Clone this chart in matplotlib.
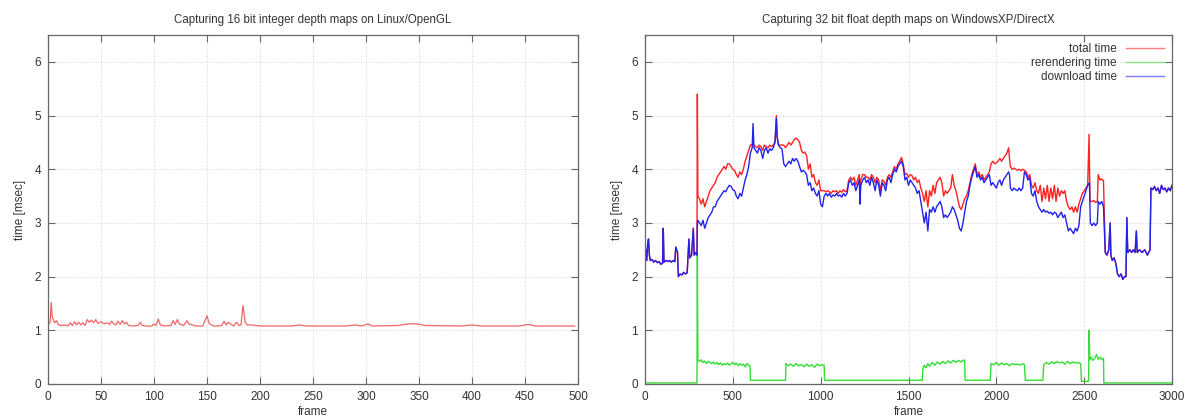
import matplotlib
matplotlib.use("Agg")
import matplotlib.pyplot as plt

plt.rcParams['font.family'] = ['Liberation Sans', 'DejaVu Sans']

# ---------------- Left chart data (Linux/OpenGL) ----------------
left_frames = [0, 2, 3, 4, 6, 8, 10, 13, 16, 19, 21, 23, 25, 27, 29, 31, 33, 35, 37, 39, 41, 43, 45,
               47, 50, 53, 56, 58, 60, 62, 64, 66, 68, 70, 72, 74, 76, 80, 85, 87, 89, 92, 98, 100,
               102, 104, 106, 110, 116, 118, 120, 122, 124, 128, 131, 133, 136, 140, 146, 150, 152,
               156, 160, 164, 166, 168, 170, 175, 178, 180, 182, 184, 186, 188, 192, 200, 230, 237,
               244, 280, 290, 296, 302, 306, 330, 340, 348, 356, 390, 400, 408, 445, 453, 460, 497]
left_values = [1.10, 1.15, 1.52, 1.25, 1.14, 1.18, 1.10, 1.09, 1.10, 1.08, 1.14, 1.09, 1.16, 1.10,
               1.15, 1.10, 1.14, 1.09, 1.20, 1.15, 1.19, 1.14, 1.20, 1.13, 1.16, 1.12, 1.14, 1.11,
               1.17, 1.12, 1.10, 1.17, 1.11, 1.18, 1.12, 1.15, 1.09, 1.08, 1.09, 1.15, 1.09, 1.08,
               1.08, 1.12, 1.09, 1.21, 1.10, 1.08, 1.09, 1.18, 1.11, 1.20, 1.12, 1.09, 1.18, 1.12,
               1.10, 1.08, 1.08, 1.27, 1.13, 1.08, 1.08, 1.09, 1.17, 1.10, 1.15, 1.08, 1.15, 1.09,
               1.10, 1.46, 1.15, 1.10, 1.10, 1.08, 1.08, 1.10, 1.08, 1.08, 1.10, 1.08, 1.12, 1.08,
               1.09, 1.12, 1.12, 1.09, 1.08, 1.10, 1.08, 1.08, 1.11, 1.08, 1.08]

# ---------------- Right chart data (WindowsXP/DirectX) ----------------
dl_frames = [0, 5, 10, 15, 20, 25, 30, 40, 50, 60, 70, 80, 90, 100, 104, 108, 120, 130, 140, 150,
             160, 170, 175, 180, 185, 190, 200, 210, 220, 230, 240, 245, 250, 255, 265, 275, 280,
             290, 296, 298, 300, 310, 320, 330, 340, 350, 360, 370, 380, 390, 400, 410, 420, 430,
             440, 450, 460, 470, 480, 490, 500, 510, 520, 530, 540, 550, 560, 570, 580, 590, 600,
             610, 615, 620, 630, 640, 650, 660, 670, 680, 690, 700, 710, 720, 730, 740, 748, 752,
             760, 770, 780, 790, 800, 810, 820, 830, 840, 850, 860, 870, 880, 890, 900, 910, 920,
             930, 940, 950, 960, 970, 980, 990, 1000, 1010, 1020, 1030, 1040, 1050, 1060, 1070,
             1080, 1090, 1100, 1110, 1120, 1130, 1140, 1150, 1160, 1170, 1180, 1190, 1200, 1210,
             1220, 1224, 1228, 1240, 1250, 1260, 1270, 1280, 1290, 1300, 1310, 1320, 1330, 1340,
             1350, 1360, 1370, 1380, 1390, 1400, 1410, 1420, 1430, 1440, 1450, 1460, 1470, 1480,
             1490, 1500, 1510, 1520, 1530, 1540, 1550, 1560, 1570, 1580, 1590, 1600, 1610, 1620,
             1630, 1640, 1650, 1660, 1670, 1680, 1690, 1700, 1710, 1720, 1730, 1740, 1750, 1760,
             1770, 1780, 1790, 1800, 1810, 1820, 1830, 1840, 1850, 1860, 1870, 1880, 1890, 1900,
             1910, 1920, 1930, 1940, 1950, 1960, 1970, 1980, 1990, 2000, 2010, 2020, 2030, 2040,
             2050, 2060, 2070, 2075, 2080, 2090, 2100, 2110, 2120, 2130, 2140, 2150, 2160, 2170,
             2180, 2190, 2200, 2210, 2220, 2230, 2240, 2250, 2260, 2270, 2280, 2290, 2300, 2310,
             2320, 2330, 2340, 2350, 2360, 2370, 2380, 2390, 2400, 2410, 2420, 2430, 2440, 2450,
             2460, 2470, 2480, 2490, 2500, 2510, 2520, 2530, 2535, 2545, 2555, 2565, 2575, 2580,
             2590, 2600, 2610, 2620, 2630, 2640, 2648, 2652, 2660, 2670, 2680, 2690, 2700, 2710,
             2720, 2730, 2738, 2743, 2748, 2760, 2770, 2780, 2790, 2797, 2802, 2815, 2830, 2845,
             2860, 2875, 2880, 2890, 2900, 2910, 2920, 2930, 2940, 2950, 2960, 2970, 2980, 2990,
             3000]
dl_values = [2.35, 2.50, 2.30, 2.60, 2.70, 2.40, 2.30, 2.32, 2.27, 2.30, 2.26, 2.28, 2.23, 2.25,
             2.90, 2.27, 2.30, 2.28, 2.30, 2.27, 2.30, 2.28, 2.55, 2.50, 2.45, 2.00, 2.05, 2.03,
             2.08, 2.05, 2.07, 2.40, 2.70, 2.35, 2.40, 2.90, 2.40, 2.45, 2.40, 3.00, 3.05, 3.00,
             2.95, 3.05, 2.90, 3.00, 3.10, 3.15, 3.20, 3.30, 3.30, 3.40, 3.45, 3.50, 3.55, 3.60,
             3.58, 3.65, 3.70, 3.68, 3.62, 3.60, 3.50, 3.45, 3.55, 3.50, 3.65, 3.80, 3.90, 4.05,
             4.30, 4.40, 4.85, 4.40, 4.35, 4.30, 4.40, 4.35, 4.20, 4.35, 4.40, 4.30, 4.38, 4.35,
             4.40, 4.50, 4.95, 4.60, 4.45, 4.40, 4.38, 4.10, 4.05, 4.10, 4.15, 4.10, 4.20, 4.15,
             4.20, 4.15, 4.05, 3.95, 3.98, 3.95, 3.90, 3.70, 3.75, 3.60, 3.65, 3.55, 3.50, 3.60,
             3.35, 3.30, 3.50, 3.55, 3.50, 3.55, 3.48, 3.52, 3.50, 3.55, 3.50, 3.52, 3.48, 3.55,
             3.50, 3.55, 3.75, 3.80, 3.70, 3.75, 3.60, 3.70, 3.80, 3.35, 3.70, 3.80, 3.85, 3.75,
             3.80, 3.70, 3.85, 3.75, 3.60, 3.80, 3.70, 3.50, 3.75, 3.70, 3.60, 3.80, 3.85, 3.75,
             3.90, 4.00, 3.95, 4.05, 4.10, 4.15, 4.05, 3.80, 3.85, 3.70, 3.80, 3.75, 3.70, 3.65,
             3.55, 3.60, 3.40, 3.20, 3.00, 3.20, 2.85, 3.25, 3.20, 3.30, 3.20, 3.30, 3.35, 3.40,
             3.30, 3.10, 3.15, 3.10, 3.15, 3.20, 3.30, 3.25, 3.15, 3.05, 2.90, 2.85, 3.00, 3.20,
             3.40, 3.50, 3.70, 3.85, 3.95, 4.05, 3.85, 3.90, 3.80, 3.85, 3.75, 3.80, 3.85, 3.90,
             3.70, 3.75, 3.70, 3.65, 3.75, 3.80, 3.70, 3.80, 3.85, 3.90, 3.95, 3.90, 3.65, 3.60,
             3.65, 3.62, 3.60, 3.65, 3.60, 3.65, 3.95, 3.90, 3.80, 3.85, 3.55, 3.50, 3.60, 3.40,
             3.30, 3.25, 3.20, 3.25, 3.20, 3.22, 3.18, 3.20, 3.15, 3.20, 3.18, 3.10, 3.15, 3.20,
             3.10, 3.15, 3.00, 2.85, 2.90, 2.85, 2.80, 2.90, 2.85, 2.95, 3.30, 3.40, 3.50, 3.60,
             3.70, 3.75, 3.00, 2.95, 3.00, 2.95, 3.00, 3.40, 3.35, 3.40, 3.30, 2.45, 2.40, 2.50,
             3.00, 2.40, 2.30, 2.35, 2.25, 2.05, 2.00, 2.05, 1.95, 2.00, 2.00, 3.10, 2.45, 2.50,
             2.45, 2.50, 2.45, 2.85, 2.45, 2.50, 2.45, 2.50, 2.40, 2.50, 3.65, 3.62, 3.68, 3.60,
             3.65, 3.55, 3.70, 3.62, 3.65, 3.58, 3.65, 3.60, 3.70]

tot_frames = [0, 5, 10, 15, 20, 25, 30, 40, 50, 60, 70, 80, 90, 100, 104, 108, 120, 130, 140, 150,
              160, 170, 175, 180, 185, 190, 200, 210, 220, 230, 240, 245, 250, 255, 265, 275, 280,
              290, 296, 298, 301, 310, 320, 330, 340, 350, 360, 370, 380, 390, 400, 410, 420, 430,
              440, 450, 460, 470, 480, 490, 500, 510, 520, 530, 540, 550, 560, 570, 580, 590, 600,
              610, 615, 620, 630, 640, 650, 660, 670, 680, 690, 700, 710, 720, 730, 740, 748, 752,
              760, 770, 780, 790, 800, 810, 820, 830, 840, 850, 860, 870, 880, 890, 900, 910, 920,
              930, 940, 950, 960, 970, 980, 990, 1000, 1010, 1020, 1030, 1040, 1050, 1060, 1070,
              1080, 1090, 1100, 1110, 1120, 1130, 1140, 1150, 1160, 1170, 1180, 1190, 1200, 1210,
              1220, 1224, 1228, 1240, 1250, 1260, 1270, 1280, 1290, 1300, 1310, 1320, 1330, 1340,
              1350, 1360, 1370, 1380, 1390, 1400, 1410, 1420, 1430, 1440, 1450, 1460, 1470, 1480,
              1490, 1500, 1510, 1520, 1530, 1540, 1550, 1560, 1570, 1580, 1590, 1600, 1610, 1620,
              1630, 1640, 1650, 1660, 1670, 1680, 1690, 1700, 1710, 1720, 1730, 1740, 1750, 1760,
              1770, 1780, 1790, 1800, 1810, 1820, 1830, 1840, 1850, 1860, 1870, 1880, 1890, 1900,
              1910, 1920, 1930, 1940, 1950, 1960, 1970, 1980, 1990, 2000, 2010, 2020, 2030, 2040,
              2050, 2060, 2070, 2075, 2080, 2090, 2100, 2110, 2120, 2130, 2140, 2150, 2160, 2170,
              2180, 2190, 2200, 2210, 2220, 2230, 2240, 2250, 2260, 2270, 2280, 2290, 2300, 2310,
              2320, 2330, 2340, 2350, 2360, 2370, 2380, 2390, 2400, 2410, 2420, 2430, 2440, 2450,
              2460, 2470, 2480, 2490, 2500, 2510, 2520, 2528, 2533, 2545, 2555, 2565, 2575, 2580,
              2590, 2600, 2610, 2620, 2630, 2640, 2648, 2652, 2660, 2670, 2680, 2690, 2700, 2710,
              2720, 2730, 2738, 2743, 2748, 2760, 2770, 2780, 2790, 2797, 2802, 2815, 2830, 2845,
              2860, 2875, 2880, 2890, 2900, 2910, 2920, 2930, 2940, 2950, 2960, 2970, 2980, 2990,
              3000]
tot_values = [2.35, 2.50, 2.30, 2.60, 2.70, 2.40, 2.30, 2.32, 2.27, 2.30, 2.26, 2.28, 2.23, 2.25,
              2.90, 2.27, 2.30, 2.28, 2.30, 2.27, 2.30, 2.28, 2.55, 2.50, 2.45, 2.00, 2.05, 2.03,
              2.08, 2.05, 2.07, 2.40, 2.70, 2.35, 2.40, 2.90, 2.40, 2.45, 2.40, 5.40, 3.50, 3.45,
              3.35, 3.45, 3.30, 3.40, 3.50, 3.60, 3.65, 3.70, 3.75, 3.85, 3.90, 3.95, 4.00, 4.05,
              4.00, 4.10, 4.10, 4.05, 4.00, 3.98, 3.90, 3.85, 3.95, 3.90, 4.00, 4.15, 4.25, 4.35,
              4.45, 4.45, 4.50, 4.45, 4.42, 4.40, 4.45, 4.42, 4.35, 4.45, 4.42, 4.40, 4.45, 4.42,
              4.45, 4.50, 5.00, 4.60, 4.45, 4.45, 4.45, 4.45, 4.40, 4.45, 4.50, 4.45, 4.50, 4.55,
              4.58, 4.55, 4.50, 4.35, 4.30, 4.32, 4.25, 4.00, 4.10, 3.85, 3.90, 3.75, 3.70, 3.80,
              3.60, 3.60, 3.60, 3.58, 3.60, 3.58, 3.55, 3.60, 3.58, 3.60, 3.55, 3.60, 3.57, 3.62,
              3.58, 3.60, 3.80, 3.85, 3.80, 3.85, 3.70, 3.80, 3.90, 3.45, 3.80, 3.90, 3.90, 3.85,
              3.85, 3.80, 3.90, 3.85, 3.75, 3.85, 3.80, 3.60, 3.80, 3.78, 3.70, 3.85, 3.90, 3.85,
              3.95, 4.05, 4.00, 4.10, 4.15, 4.22, 4.10, 3.90, 3.92, 3.85, 3.90, 3.88, 3.80, 3.85,
              3.75, 3.80, 3.65, 3.55, 3.40, 3.60, 3.30, 3.60, 3.50, 3.70, 3.55, 3.75, 3.80, 3.85,
              3.75, 3.50, 3.60, 3.55, 3.60, 3.65, 3.90, 3.70, 3.60, 3.45, 3.30, 3.25, 3.35, 3.45,
              3.50, 3.60, 3.75, 3.90, 4.00, 4.10, 3.90, 3.95, 3.85, 3.90, 3.80, 3.85, 3.90, 3.95,
              4.10, 4.15, 4.10, 4.12, 4.15, 4.20, 4.15, 4.20, 4.25, 4.30, 4.40, 4.20, 4.05, 4.00,
              4.02, 4.00, 3.98, 4.00, 3.97, 4.00, 3.98, 3.95, 3.85, 3.90, 3.70, 3.65, 3.75, 3.60,
              3.55, 3.70, 3.40, 3.65, 3.45, 3.70, 3.40, 3.65, 3.45, 3.70, 3.40, 3.65, 3.50, 3.60,
              3.55, 3.60, 3.40, 3.30, 3.25, 3.30, 3.20, 3.30, 3.20, 3.35, 3.45, 3.55, 3.60, 3.65,
              3.70, 4.65, 3.40, 3.40, 3.42, 3.38, 3.40, 3.90, 3.80, 3.82, 3.78, 2.45, 2.40, 2.50,
              3.00, 2.40, 2.30, 2.35, 2.25, 2.05, 2.00, 2.05, 1.95, 2.00, 2.00, 3.10, 2.45, 2.50,
              2.45, 2.50, 2.45, 2.85, 2.45, 2.50, 2.45, 2.50, 2.40, 2.50, 3.65, 3.62, 3.68, 3.60,
              3.65, 3.55, 3.70, 3.62, 3.65, 3.58, 3.65, 3.60, 3.70]

rr_frames = [0, 296, 298, 301, 310, 320, 330, 340, 350, 360, 370, 380, 390, 400, 410, 420, 430,
             440, 450, 460, 470, 480, 490, 500, 510, 520, 530, 540, 550, 560, 570, 580, 590, 598,
             600, 800, 802, 815, 830, 845, 860, 875, 890, 905, 920, 935, 950, 965, 980, 995, 1010,
             1020, 1022, 1578, 1582, 1590, 1600, 1610, 1620, 1635, 1650, 1665, 1680, 1695, 1710,
             1725, 1740, 1755, 1770, 1785, 1800, 1815, 1820, 1822, 1965, 1970, 1985, 2000, 2015,
             2030, 2045, 2060, 2075, 2090, 2105, 2120, 2135, 2150, 2160, 2165, 2265, 2270, 2285,
             2300, 2315, 2330, 2345, 2360, 2375, 2390, 2405, 2420, 2435, 2450, 2465, 2480, 2485,
             2525, 2528, 2532, 2540, 2550, 2560, 2570, 2580, 2590, 2600, 2610, 2612, 3000]
rr_values = [0.02, 0.02, 2.40, 0.45, 0.42, 0.45, 0.40, 0.43, 0.38, 0.42, 0.40, 0.38, 0.41, 0.37,
             0.40, 0.36, 0.39, 0.35, 0.38, 0.36, 0.39, 0.35, 0.38, 0.40, 0.36, 0.39, 0.34, 0.38,
             0.35, 0.37, 0.32, 0.38, 0.35, 0.34, 0.07, 0.07, 0.38, 0.34, 0.37, 0.33, 0.38, 0.34,
             0.36, 0.32, 0.37, 0.33, 0.36, 0.31, 0.37, 0.34, 0.36, 0.35, 0.07, 0.07, 0.28, 0.35,
             0.30, 0.38, 0.33, 0.40, 0.35, 0.41, 0.37, 0.42, 0.38, 0.43, 0.39, 0.44, 0.40, 0.44,
             0.41, 0.45, 0.42, 0.07, 0.07, 0.38, 0.36, 0.40, 0.35, 0.39, 0.36, 0.38, 0.34, 0.38,
             0.36, 0.37, 0.35, 0.38, 0.36, 0.07, 0.07, 0.36, 0.40, 0.37, 0.41, 0.38, 0.42, 0.39,
             0.41, 0.37, 0.42, 0.38, 0.41, 0.39, 0.40, 0.38, 0.05, 0.05, 1.00, 0.45, 0.50, 0.44,
             0.48, 0.55, 0.46, 0.50, 0.45, 0.48, 0.02, 0.02]

x_ticks_left = [0, 50, 100, 150, 200, 250, 300, 350, 400, 450, 500]
x_ticks_right = [0, 500, 1000, 1500, 2000, 2500, 3000]
y_ticks = [0, 1, 2, 3, 4, 5, 6]
title_left = "Capturing 16 bit integer depth maps on Linux/OpenGL"
title_right = "Capturing 32 bit float depth maps on WindowsXP/DirectX"

fig = plt.figure(figsize=(11.92, 4.18), dpi=100)
ax1 = fig.add_axes([48/1192, 1 - 384/418, (578 - 48)/1192, (384 - 35)/418])
ax2 = fig.add_axes([645/1192, 1 - 384/418, (1172 - 645)/1192, (384 - 35)/418])

text_color = '#333333'
frame_color = '#666666'

def style(ax, xticks, xmax, title):
    ax.set_xlim(0, xmax)
    ax.set_ylim(0, 6.5)
    ax.set_xticks(xticks)
    ax.set_yticks(y_ticks)
    ax.grid(True, color='#c8c8c8', linestyle=(0, (1, 2)), linewidth=0.6)
    ax.tick_params(direction='in', top=True, right=True, length=5, width=0.8,
                   colors=frame_color, labelcolor=text_color, labelsize=8.5, pad=5)
    for s in ax.spines.values():
        s.set_color(frame_color)
        s.set_linewidth(0.9)
    ax.set_xlabel('frame', fontsize=8.5, color=text_color, labelpad=2)
    ax.set_ylabel('time [msec]', fontsize=8.5, color=text_color, labelpad=6)
    ax.set_title(title, fontsize=8.3, color=text_color, pad=9)

style(ax1, x_ticks_left, 500, title_left)
style(ax2, x_ticks_right, 3000, title_right)

ax1.plot(left_frames, left_values, color='#ee6666', linewidth=0.9)

ax2.plot(tot_frames, tot_values, color='#ff2020', linewidth=1.0, label='total time')
ax2.plot(rr_frames, rr_values, color='#33dd33', linewidth=1.0, label='rerendering time')
ax2.plot(dl_frames, dl_values, color='#2222ee', linewidth=1.0, label='download time')

leg = ax2.legend(loc='upper right', frameon=False, markerfirst=False, fontsize=8.5,
                 handlelength=3.2, handletextpad=0.8, labelspacing=0.15,
                 borderaxespad=0.3)
for t in leg.get_texts():
    t.set_color(text_color)
    t.set_ha('right')
for h in leg.legend_handles:
    h.set_alpha(0.6)

fig.savefig('out.png', dpi=100)
